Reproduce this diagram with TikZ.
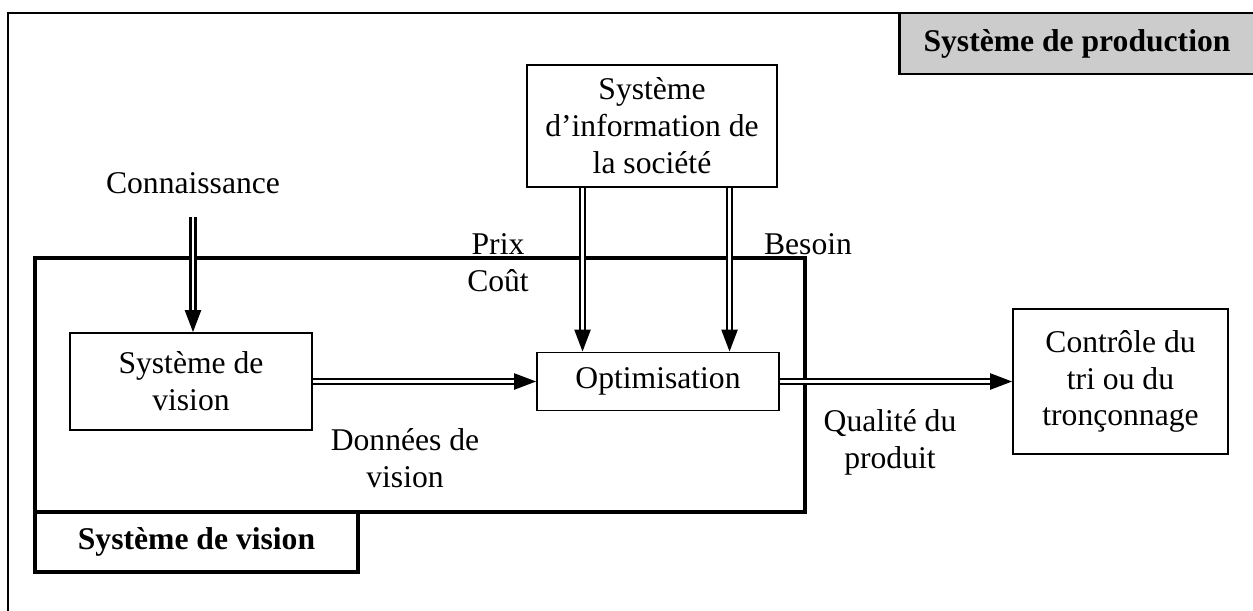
\documentclass[tikz,border=0pt]{standalone}
\usepackage{fontspec}
\setmainfont{Liberation Serif}
\usetikzlibrary{positioning,arrows.meta,calc}

\tikzset{
  txt/.style={font=\fontsize{18}{21}\selectfont, align=center},
  block/.style={txt, draw, line width=1pt, inner sep=0pt},
  tag/.style={block, font=\fontsize{18}{21}\selectfont\bfseries, line width=2pt},
  flow/.style={double, double distance=1.7pt, line width=1.3pt,
    -{Triangle[length=0.44cm, width=0.32cm]}}
}

\begin{document}
\begin{tikzpicture}[x=0.02cm, y=-0.02cm]
  \useasboundingbox (0,0) rectangle (1253,611);

  % Outer field - production system
  \draw[line width=1.2pt] (8,13) rectangle (1275,650);
  \node[tag, fill=black!20, line width=1.2pt, minimum width=7.1cm, minimum height=1.22cm] (prodtag) at (1077,43.5) {Système de production};

  % Inner field - vision system
  \draw[line width=2pt] (35,258) rectangle (805,512);
  \node[tag, minimum width=6.46cm, minimum height=1.2cm] (vistag) at (196.5,542) {Système de vision};

  % Blocks
  \node[block, minimum width=5cm, minimum height=2.44cm] (info) at (652,126) {Système\\d'information de\\la société};
  \node[txt] (conn) at (193,183) {Connaissance};
  \node[block, minimum width=4.84cm, minimum height=1.94cm] (visbox) at (191,381.5) {Système de\\vision};
  \node[block, minimum width=4.84cm, minimum height=1.16cm] (optim) at (658,381.5) {Optimisation};
  \node[block, minimum width=4.3cm, minimum height=2.9cm] (ctrl) at (1120.5,381.5) {Contrôle du\\tri ou du\\tronçonnage};

  % Labels on the flows
  \node[txt] (prix) at (498,263) {Prix\\Coût};
  \node[txt] (besoin) at (808,244) {Besoin};
  \node[txt] (donnees) at (405,458) {Données de\\vision};
  \node[txt] (qualite) at (890,442) {Qualité du\\produit};

  % Flows
  \coordinate (prixtop) at ($(info.south west)!0.224!(info.south east)$);
  \coordinate (besointop) at ($(info.south west)!0.808!(info.south east)$);
  \draw[flow, shorten <=10pt] (conn.south) -- (conn.south |- visbox.north);
  \draw[flow] (prixtop) -- (prixtop |- optim.north);
  \draw[flow] (besointop) -- (besointop |- optim.north);
  \draw[flow] (visbox.east) -- (optim.west);
  \draw[flow] (optim.east) -- (ctrl.west);
\end{tikzpicture}
\end{document}
